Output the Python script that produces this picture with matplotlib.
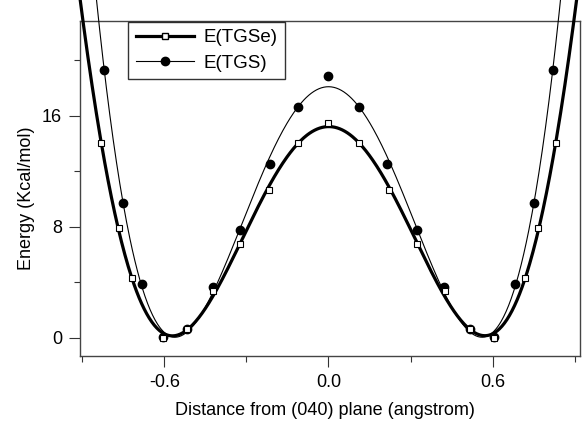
import numpy as np
import matplotlib
matplotlib.use("Agg")
import matplotlib.pyplot as plt
from matplotlib.lines import Line2D
from matplotlib.ticker import MultipleLocator

plt.rcParams['font.family'] = ['Liberation Sans', 'DejaVu Sans']

# Data
x_tgse = [-0.832, -0.767, -0.719, -0.605, -0.517, -0.424, -0.323, -0.217, -0.112, 0.0,
          0.112, 0.221, 0.325, 0.425, 0.517, 0.605, 0.719, 0.767, 0.832]
y_tgse = [14.05, 7.9, 4.3, 0.0, 0.6, 3.35, 6.75, 10.65, 14.0, 15.5,
          14.0, 10.65, 6.75, 3.35, 0.6, 0.0, 4.3, 7.9, 14.05]

x_tgs = [-0.820, -0.753, -0.681, -0.605, -0.517, -0.422, -0.323, -0.215, -0.110, 0.0,
         0.110, 0.215, 0.323, 0.422, 0.517, 0.605, 0.681, 0.753, 0.820]
y_tgs = [19.3, 9.7, 3.9, 0.05, 0.6, 3.65, 7.75, 12.55, 16.6, 18.9,
         16.6, 12.55, 7.75, 3.65, 0.6, 0.05, 3.9, 9.7, 19.3]

labels = ["E(TGSe)", "E(TGS)"]
x_ticks_major = [-0.6, 0.0, 0.6]
y_ticks_major = [0, 8, 16]

fig = plt.figure(figsize=(5.83, 4.23), dpi=100)
ax = fig.add_axes([80/583, 1-355.5/423, 500/583, 334.8/423])

# polynomial fits (as in the original fitted curves)
xf = np.linspace(-0.92, 0.92, 600)
deg = 6
p_se = np.polyfit(x_tgse, y_tgse, deg)
p_s = np.polyfit(x_tgs, y_tgs, deg)

ax.plot(xf, np.polyval(p_se, xf), color='black', lw=2.3, clip_on=False, zorder=3)
ax.plot(xf, np.polyval(p_s, xf), color='black', lw=0.8, clip_on=False, zorder=3)

ax.plot(x_tgs, y_tgs, 'o', color='black', ms=6, zorder=4, clip_on=False)
ax.plot(x_tgse, y_tgse, 's', mfc='white', mec='black', mew=0.8, ms=4.5, zorder=5, clip_on=False)

ax.set_xlim(-0.909, 0.92)
ax.set_ylim(-1.28, 22.85)

ax.set_xticks(x_ticks_major)
ax.set_xticklabels(["-0.6", "0.0", "0.6"])
ax.xaxis.set_minor_locator(MultipleLocator(0.3))
ax.set_yticks(y_ticks_major)
ax.yaxis.set_minor_locator(MultipleLocator(4))

ax.tick_params(which='major', direction='out', length=8, width=0.8, labelsize=13, pad=5, color='#333333')
ax.tick_params(which='minor', direction='out', length=4, width=0.8, color='#333333')
for s in ax.spines.values():
    s.set_color('#444444')
    s.set_linewidth(1.0)

ax.set_xlabel("Distance from (040) plane (angstrom)", fontsize=13)
ax.set_ylabel("Energy (Kcal/mol)", fontsize=13)
ax.xaxis.set_label_coords(0.49, -0.138)
ax.yaxis.set_label_coords(-0.09, 0.47)

handles = [
    Line2D([], [], color='black', lw=2.3, marker='s', mfc='white', mec='black', ms=5),
    Line2D([], [], color='black', lw=0.8, marker='o', mfc='black', mec='black', ms=6),
]
leg = ax.legend(handles, labels, loc='upper left', bbox_to_anchor=(0.0966, 0.997),
                borderaxespad=0, fontsize=13.5, frameon=True, fancybox=False,
                handlelength=3.1, handletextpad=0.5, labelspacing=0.45,
                borderpad=0.4)
leg.get_frame().set_edgecolor('black')
leg.get_frame().set_linewidth(1.0)

fig.savefig("out.png", dpi=100)
